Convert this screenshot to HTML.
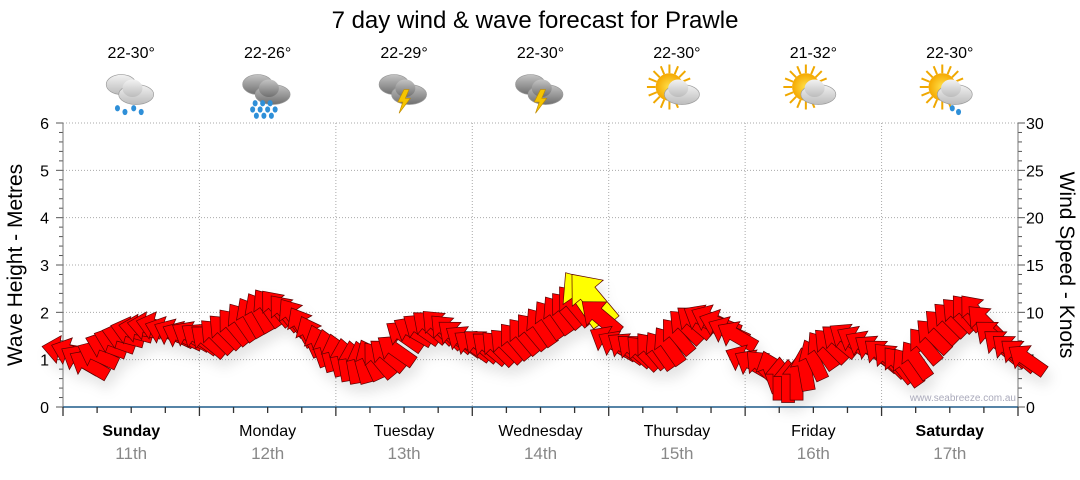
<!DOCTYPE html>
<html><head><meta charset="utf-8">
<style>
html,body{margin:0;padding:0;background:#fff;}
body{width:1080px;height:475px;overflow:hidden;font-family:"Liberation Sans",sans-serif;}
</style></head>
<body>
<svg id="chart" width="1080" height="475" xmlns="http://www.w3.org/2000/svg" font-family="Liberation Sans, sans-serif">
<defs>
<filter id="sh" x="-50%" y="-50%" width="200%" height="200%"><feDropShadow dx="4" dy="9" stdDeviation="6" flood-color="#000" flood-opacity="0.10"/></filter>
<radialGradient id="sun" cx="0.5" cy="0.5" r="0.5"><stop offset="0" stop-color="#ffe14a"/><stop offset="1" stop-color="#f5a800"/></radialGradient>
<linearGradient id="cl" x1="0" y1="0" x2="0" y2="1"><stop offset="0" stop-color="#f2f2f2"/><stop offset="1" stop-color="#bcbcbc"/></linearGradient>
<linearGradient id="cd" x1="0" y1="0" x2="0" y2="1"><stop offset="0" stop-color="#c4c4c4"/><stop offset="1" stop-color="#707070"/></linearGradient>
</defs>
<text x="535" y="28" font-size="24" text-anchor="middle" fill="#000">7 day wind &amp; wave forecast for Prawle</text>
<g id="grid"></g>
<g id="axes"></g>
<g id="icons"></g>
<g id="arrows" filter="url(#sh)"></g>
<text x="1016" y="401" font-size="10" fill="#aab" text-anchor="end">www.seabreeze.com.au</text>
<text transform="translate(22,265) rotate(-90)" font-size="21" text-anchor="middle">Wave Height - Metres</text>
<text transform="translate(1060,265) rotate(90)" font-size="21" text-anchor="middle">Wind Speed - Knots</text>
</svg>
<script>
const days=["Sunday","Monday","Tuesday","Wednesday","Thursday","Friday","Saturday"];
const dates=["11th","12th","13th","14th","15th","16th","17th"];
const temps=["22-30°","22-26°","22-29°","22-30°","22-30°","21-32°","22-30°"];
const weather=["rain","heavyrain","storm","storm","partly","partly","partlyrain"];
const boldDays=[true,false,false,false,false,false,true];
const waveTicks=[0,1,2,3,4,5,6];
const windTicks=[0,5,10,15,20,25,30];
// 1.5-hourly samples
const waveHeight=[1.2,1.15,1.0,0.9,1.1,1.3,1.4,1.5,1.6,1.65,1.7,1.7,1.6,1.55,1.5,1.5,
 1.45,1.4,1.5,1.6,1.7,1.8,1.9,2.0,2.1,2.1,2.0,1.9,1.7,1.5,1.3,1.2,
 1.1,1.0,0.95,0.95,1.0,1.0,1.1,1.2,1.5,1.6,1.65,1.7,1.7,1.6,1.5,1.4,
 1.3,1.3,1.25,1.25,1.3,1.4,1.5,1.6,1.7,1.85,1.95,2.05,2.15,2.3,2.3,1.9,
 1.4,1.3,1.25,1.2,1.15,1.2,1.2,1.3,1.5,1.7,1.8,1.85,1.85,1.75,1.6,1.5,
 1.0,0.9,0.85,0.75,0.6,0.55,0.6,0.8,1.0,1.2,1.3,1.4,1.45,1.4,1.3,1.2,
 1.1,1.0,0.9,0.85,1.0,1.3,1.5,1.7,1.85,1.95,2.0,2.0,1.8,1.5,1.3,1.2,
 1.1,1.0];
const windDir=[280,290,300,300,295,290,290,285,285,280,280,285,290,295,295,300,
 305,310,315,315,320,325,330,330,325,320,320,325,330,335,340,345,
 345,350,350,345,335,320,310,305,305,300,305,310,315,315,310,305,
 305,310,310,315,315,320,320,320,325,325,325,320,320,325,320,310,
 300,300,305,310,315,320,325,325,320,315,310,300,295,290,295,300,
 295,300,315,340,0,0,0,350,335,325,315,310,305,300,300,305,
 310,315,320,325,325,320,315,315,315,315,320,320,315,310,310,310,
 310,305];
const windSpeed=[9,9,9,9,9,9,9,9,9,9,9,9,9,9,9,9,
 9,9,9,9,9,9,9,9,9,9,9,9,9,9,9,9,
 9,9,9,9,9,9,9,9,9,9,9,9,9,9,9,9,
 9,9,9,9,9,9,9,9,9,9,9,9,10,13,13,10,
 9,9,9,9,9,9,9,9,9,9,9,9,9,9,9,9,
 9,9,9,9,9,9,9,9,9,9,9,9,9,9,9,9,
 9,9,9,9,9,9,9,9,9,9,9,9,9,9,9,9,
 9,9];

const X0=63,X1=1018,Y0=407,Y6=123;
const dayW=(X1-X0)/7;
const y=v=>Y0-(v/6)*(Y0-Y6);
const xt=i=>X0+(i+0.5)*dayW/16-4;
const ns="http://www.w3.org/2000/svg";
function mk(tag,attrs,parent){const e=document.createElementNS(ns,tag);for(const k in attrs)e.setAttribute(k,attrs[k]);parent.appendChild(e);return e;}
const grid=document.getElementById('grid'),axes=document.getElementById('axes'),icons=document.getElementById('icons'),arrows=document.getElementById('arrows');

waveTicks.forEach((t,i)=>{
 if(t>0){const g=mk('line',{x1:X0,x2:X1,y1:y(t),y2:y(t),stroke:'#aaa','stroke-dasharray':'1,2'},grid);
 
 }
 const l=mk('text',{x:49,y:y(t)+6,'font-size':16,'text-anchor':'end'},axes);l.textContent=t;
 
 
});
for(let m=0;m<=30;m++){const v=m/5;mk('line',{x1:X0-(m%5?4:7),x2:X0,y1:y(v),y2:y(v),stroke:'#555'},axes);}
windTicks.forEach(t=>{
 const l=mk('text',{x:1026,y:y(t/5)+6,'font-size':16},axes);l.textContent=t;
 
 
});
for(let m=0;m<=30;m++){const v=m/5;mk('line',{x1:X1,x2:X1+(m%5?4:7),y1:y(v),y2:y(v),stroke:'#555'},axes);}
mk('line',{x1:X0,x2:X0,y1:Y6,y2:Y0,stroke:'#777'},axes);
mk('line',{x1:X1,x2:X1,y1:Y6,y2:Y0,stroke:'#777'},axes);
mk('line',{x1:X0,x2:X1,y1:Y0,y2:Y0,stroke:'#1f5b8a','stroke-width':1.5},axes);
for(let k=0;k<=28;k++){const x=X0+k*dayW/4;mk('line',{x1:x,x2:x,y1:Y0,y2:Y0+(k%4?6:9),stroke:'#333','stroke-width':1.3},axes);}
days.forEach((d,i)=>{
 const cx=X0+(i+0.5)*dayW;
 if(i>0){const g=mk('line',{x1:X0+i*dayW,x2:X0+i*dayW,y1:Y6,y2:Y0,stroke:'#aaa','stroke-dasharray':'1,2'},grid);
 
 }
 const t=mk('text',{x:cx,y:436,'font-size':16,'text-anchor':'middle','font-weight':boldDays[i]?'bold':'normal'},axes);t.textContent=d;
 
 
 const t2=mk('text',{x:cx,y:459,'font-size':17,'text-anchor':'middle',fill:'#888'},axes);t2.textContent=dates[i];
 
 
 const tt=mk('text',{x:cx,y:58,'font-size':16,'text-anchor':'middle'},icons);tt.textContent=temps[i];
 
 
 const g=mk('g',{transform:`translate(${cx},92) scale(1.25)`},icons);
 
 
 const w=weather[i];
 if(w.startsWith('partly')){
  for(let a=0;a<16;a++){const r=a*Math.PI/8;mk('line',{x1:-6+Math.cos(r)*11,y1:-4+Math.sin(r)*11,x2:-6+Math.cos(r)*18,y2:-4+Math.sin(r)*18,stroke:'#f0a800','stroke-width':1.6},g);}
  mk('circle',{cx:-6,cy:-4,r:11,fill:'url(#sun)'},g);
 }
 const dark=(w==='heavyrain'||w==='storm');
 const f=dark?'url(#cd)':'url(#cl)';
 if(!w.startsWith('partly')){
  mk('ellipse',{cx:-8,cy:-6,rx:12,ry:8,fill:f,stroke:'#999','stroke-width':0.5},g);
 }
 mk('ellipse',{cx:4,cy:2,rx:14,ry:8,fill:f,stroke:'#999','stroke-width':0.5},g);
 mk('ellipse',{cx:1,cy:-3,rx:8,ry:7,fill:f},g);
 if(w==='storm'){mk('polygon',{points:'0,-2 -5,8 -1,8 -4,17 5,5 1,5 4,-2',fill:'#f5c400',stroke:'#c08a00','stroke-width':0.5},g);}
 const drops=w==='rain'?[[-11,13],[-5,16],[2,13],[8,16]]:w==='heavyrain'?[[-10,9],[-4,9],[2,9],[-12,14],[-6,14],[0,14],[6,14],[-9,19],[-3,19],[3,19]]:w==='partlyrain'?[[2,13],[7,16]]:[];
 drops.forEach(p=>mk('ellipse',{cx:p[0],cy:p[1],rx:2,ry:2.5,fill:'#2e8fd8'},g));
});

waveHeight.forEach((h,i)=>{
 const s=windSpeed[i]/9;
 const L=43*s,hw=6.5*s,hh=14*s,hl=17*s;
 const pts=[[L/2,0],[L/2-hl,-hh],[L/2-hl,-hw],[-L/2,-hw],[-L/2,hw],[L/2-hl,hw],[L/2-hl,hh]].map(p=>p.join(',')).join(' ');
 const rot=windDir[i]-90;
 const a=mk('polygon',{points:pts,transform:`translate(${xt(i)},${y(h)}) rotate(${rot})`,fill:windSpeed[i]>=13?'#ffff00':'#ff0000',stroke:'#5a0000','stroke-width':0.7},arrows);
 
 
});
</script>
</body></html>
